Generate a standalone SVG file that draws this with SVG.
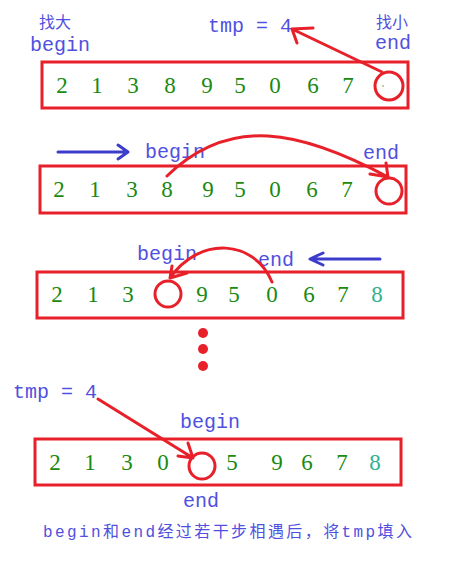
<svg xmlns="http://www.w3.org/2000/svg" width="458" height="568" viewBox="0 0 458 568">
<style>
.box{fill:none;stroke:#e8202a;stroke-width:3}
.cir{fill:none;stroke:#e8202a;stroke-width:3}
.d{font-family:"Liberation Serif",serif;font-size:23px;fill:#1a8a10;text-anchor:middle}
.d8{fill:#30b090}
.lb{font-family:"Liberation Mono",monospace;font-size:20px;fill:#5050e0}
.cj{font-family:"Noto Sans CJK SC",sans-serif;font-size:16px;fill:#5050e0}
.red{fill:none;stroke:#e8202a;stroke-width:3;stroke-linecap:round;stroke-linejoin:round}
.blue{fill:none;stroke:#3c3ccc;stroke-width:3;stroke-linecap:round;stroke-linejoin:round}
</style>
<rect width="458" height="568" fill="#fff"/>
<g id="row1">
<rect class="box" x="42" y="62" width="366" height="46"/>
<text class="d" y="93"><tspan x="62">2</tspan><tspan x="97">1</tspan><tspan x="133">3</tspan><tspan x="170">8</tspan><tspan x="207">9</tspan><tspan x="240">5</tspan><tspan x="275">0</tspan><tspan x="313">6</tspan><tspan x="348">7</tspan></text>
<circle class="cir" cx="389" cy="86" r="14"/>
<circle cx="383" cy="86" r="0.8" fill="#8a8a30"/>
<text class="cj" x="39" y="28">找大</text>
<text class="lb" x="30" y="51">begin</text>
<text class="lb" x="208" y="32">tmp = 4</text>
<text class="cj" x="376" y="28">找小</text>
<text class="lb" x="375" y="49">end</text>
</g>
<g id="row2">
<rect class="box" x="40" y="166" width="366" height="47"/>
<text class="d" y="197"><tspan x="59">2</tspan><tspan x="95">1</tspan><tspan x="132">3</tspan><tspan x="167">8</tspan><tspan x="208">9</tspan><tspan x="240">5</tspan><tspan x="275">0</tspan><tspan x="312">6</tspan><tspan x="347">7</tspan></text>
<circle class="cir" cx="389" cy="191" r="13"/>
<text class="lb" x="145" y="158">begin</text>
<text class="lb" x="363" y="159">end</text>
</g>
<g id="row3">
<rect class="box" x="37" y="272" width="366" height="46"/>
<text class="d" y="302"><tspan x="57">2</tspan><tspan x="93">1</tspan><tspan x="128">3</tspan><tspan x="202">9</tspan><tspan x="234">5</tspan><tspan x="272">0</tspan><tspan x="309">6</tspan><tspan x="343">7</tspan><tspan x="377" class="d8">8</tspan></text>
<circle class="cir" cx="168" cy="294" r="13"/>
<text class="lb" x="137" y="260">begin</text>
<text class="lb" x="258" y="266">end</text>
</g>
<g id="dots" fill="#e8202a">
<circle cx="203" cy="333" r="5"/>
<circle cx="203" cy="349" r="5"/>
<circle cx="203" cy="366" r="5"/>
</g>
<g id="row4">
<rect class="box" x="35" y="439" width="366" height="46"/>
<text class="d" y="470"><tspan x="55">2</tspan><tspan x="90">1</tspan><tspan x="127">3</tspan><tspan x="163">0</tspan><tspan x="232">5</tspan><tspan x="277">9</tspan><tspan x="307">6</tspan><tspan x="342">7</tspan><tspan x="375" class="d8">8</tspan></text>
<circle class="cir" cx="202" cy="466" r="13"/>
<text class="lb" x="13" y="398">tmp = 4</text>
<text class="lb" x="180" y="428">begin</text>
<text class="lb" x="183" y="507">end</text>
</g>
<g id="caption">
<text x="43" y="537" font-family="'Liberation Mono','Noto Sans CJK SC',monospace" font-size="16" fill="#5050e0" textLength="369" lengthAdjust="spacing">begin和end经过若干步相遇后，将tmp填入</text>
</g>
<g id="connectors">
<path class="red" d="M382,72 L292,29 M313,28 L292,29 L297,43"/>
<path class="red" d="M167,176 C230,115 300,130 388,177 M370,174 L388,177 L386,163"/>
<path class="red" d="M272,282 C255,240 200,235 170,278 M187,273 L170,278 L172,266"/>
<path class="red" d="M98,399 L193,458 M178,456 L193,458 L188,443"/>
<path class="blue" d="M58,152 L128,152 M118,145 L128,152 L118,159"/>
<path class="blue" d="M380,259 L310,259 M323,253 L310,259 L323,265"/>
</g>
</svg>
